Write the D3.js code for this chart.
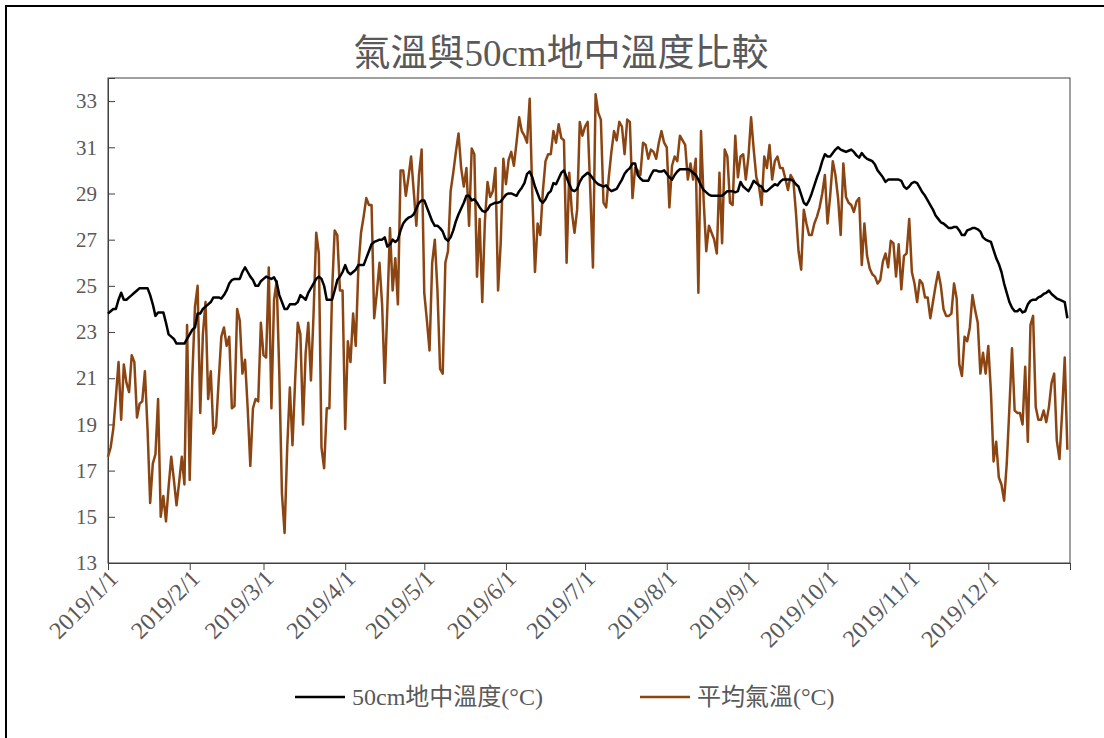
<!DOCTYPE html>
<html>
<head>
<meta charset="utf-8">
<script src="https://cdn.jsdelivr.net/npm/d3@7"></script>
<style>
  html, body { margin: 0; padding: 0; background: #fff; }
  svg { display: block; }
  text { font-family: "Liberation Serif", "Noto Sans CJK TC", serif; fill: #595959; }
</style>
</head>
<body>
<svg id="chart" width="1104" height="738"></svg>
<script>
// Daily series for 2019 (Jan 1 .. Dec 31)
const startDay = new Date(2019, 0, 1);
const endDay = new Date(2020, 0, 1);

// 50cm soil temperature (°C)
const soilTemp = [
  23.8, 23.9, 24.0, 24.0, 24.4, 24.7, 24.4, 24.4, 24.5, 24.6,
  24.7, 24.8, 24.9, 24.9, 24.9, 24.9, 24.6, 24.2, 23.7, 23.85,
  23.85, 23.85, 23.4, 22.9, 22.8, 22.7, 22.5, 22.5, 22.5, 22.5,
  22.7, 22.9, 23.1, 23.2, 23.8, 23.8, 24.0, 24.1, 24.2, 24.3,
  24.5, 24.5, 24.5, 24.45, 24.6, 24.8, 25.1, 25.25, 25.3, 25.3,
  25.3, 25.6, 25.8, 25.6, 25.4, 25.25, 25.0, 25.0, 25.2, 25.3,
  25.4, 25.35, 25.3, 25.37, 25.15, 24.6, 24.3, 24.0, 24.0, 24.2,
  24.2, 24.2, 24.3, 24.6, 24.5, 24.4, 24.7, 24.9, 25.1, 25.3,
  25.4, 25.3, 25.0, 24.4, 24.4, 24.4, 24.8, 25.25, 25.4, 25.6,
  25.9, 25.6, 25.5, 25.6, 25.7, 25.9, 25.9, 25.9, 26.2, 26.5,
  26.8, 26.9, 26.95, 27.0, 27.0, 27.1, 26.7, 26.8, 27.0, 26.9,
  27.0, 27.4, 27.7, 27.85, 27.95, 28.0, 28.1, 28.35, 28.6, 28.7,
  28.7, 28.4, 28.1, 27.8, 27.6, 27.6, 27.5, 27.35, 27.05, 26.95,
  27.1, 27.4, 27.8, 28.1, 28.35, 28.6, 28.9, 28.9, 28.7, 28.75,
  28.6, 28.4, 28.25, 28.2, 28.3, 28.5, 28.55, 28.6, 28.6, 28.65,
  28.8, 28.95, 29.0, 29.0, 28.95, 28.9, 29.1, 29.25, 29.45, 29.85,
  29.95, 29.7, 29.3, 29.0, 28.7, 28.6, 28.75, 29.0, 29.1, 29.45,
  29.4, 29.65, 29.9, 30.0, 29.7, 29.4, 29.15, 29.1, 29.2, 29.5,
  29.7, 29.8, 29.9, 29.8, 29.65, 29.5, 29.4, 29.35, 29.3, 29.35,
  29.2, 29.1, 29.15, 29.2, 29.4, 29.6, 29.85, 30.0, 30.1, 30.3,
  30.3, 29.8, 29.65, 29.55, 29.55, 29.55, 29.8, 30.0, 30.0, 29.95,
  29.95, 30.0, 29.85, 29.7, 29.6, 29.8, 29.95, 30.05, 30.05, 30.05,
  30.05, 30.0, 29.9, 29.8, 29.6, 29.35, 29.15, 29.05, 28.95, 28.9,
  28.9, 28.9, 28.9, 28.9, 29.0, 29.1, 29.1, 29.1, 29.05, 29.1,
  29.5, 29.3, 29.2, 29.1, 29.3, 29.55, 29.45, 29.35, 29.3, 29.1,
  29.1, 29.2, 29.3, 29.4, 29.35, 29.5, 29.6, 29.6, 29.6, 29.6,
  29.55, 29.4, 29.3, 28.95, 28.6, 28.5, 28.7, 29.0, 29.35, 29.7,
  30.0, 30.4, 30.7, 30.6, 30.6, 30.75, 30.9, 31.0, 30.9, 30.85,
  30.8, 30.85, 30.9, 30.8, 30.65, 30.55, 30.75, 30.6, 30.5, 30.45,
  30.4, 30.25, 30.0, 29.85, 29.7, 29.5, 29.6, 29.6, 29.6, 29.6,
  29.6, 29.55, 29.3, 29.2, 29.3, 29.45, 29.5, 29.45, 29.25, 29.05,
  28.9, 28.7, 28.5, 28.3, 28.05, 27.9, 27.75, 27.7, 27.6, 27.5,
  27.5, 27.55, 27.55, 27.4, 27.2, 27.2, 27.4, 27.45, 27.5, 27.5,
  27.45, 27.35, 27.1, 27.0, 26.95, 26.9, 26.55, 26.2, 25.95, 25.6,
  25.1, 24.7, 24.3, 24.05, 23.9, 23.9, 24.0, 23.85, 23.9, 24.2,
  24.35, 24.4, 24.4, 24.5, 24.55, 24.65, 24.7, 24.8, 24.65, 24.55,
  24.45, 24.4, 24.35, 24.3, 23.6
];

// Daily mean air temperature (°C)
const airTemp = [
  17.6, 18.0, 18.8, 20.2, 21.7, 19.2, 21.6, 20.8, 20.4, 22.0,
  21.7, 19.3, 19.9, 20.0, 21.3, 18.8, 15.6, 17.3, 17.7, 20.1,
  15.0, 15.9, 14.8, 16.3, 17.6, 16.6, 15.5, 16.5, 17.6, 16.4,
  23.3, 16.6, 21.1, 24.1, 25.0, 19.5, 22.9, 24.3, 20.1, 21.3,
  18.6, 18.9, 20.9, 22.8, 23.2, 22.4, 22.8, 19.7, 19.8, 24.0,
  23.5, 21.2, 21.8, 19.7, 17.2, 19.7, 20.1, 20.0, 23.4, 22.0,
  21.9, 25.8, 19.7, 24.4, 25.2, 21.2, 16.0, 14.3, 18.0, 20.6,
  18.1, 20.9, 23.4, 22.9, 19.0, 22.1, 23.4, 20.9, 23.8, 27.3,
  26.4, 18.0, 17.1, 19.7, 19.7, 24.7, 27.4, 27.2, 24.8, 24.8,
  18.8, 22.6, 21.7, 23.8, 22.4, 25.8, 27.3, 28.0, 28.8, 28.5,
  28.5, 23.6, 24.7, 26.0, 24.2, 20.8, 24.1, 27.5, 24.8, 26.2,
  24.2, 30.0, 30.0, 28.9, 29.7, 30.6, 29.1, 27.6, 29.8, 30.9,
  24.7, 23.5, 22.2, 26.0, 27.0, 24.8, 21.4, 21.2, 26.0, 26.5,
  29.1, 29.9, 30.8, 31.6, 30.1, 29.3, 30.1, 27.6, 30.95, 30.7,
  25.4, 27.9, 24.3, 27.8, 29.5, 28.85, 29.1, 30.1, 24.8, 26.85,
  30.5, 29.4, 30.45, 30.8, 30.2, 31.2, 32.3, 31.7, 31.5, 31.2,
  33.1, 28.9, 25.6, 27.7, 27.2, 29.1, 30.4, 30.7, 30.7, 31.7,
  31.2, 32.0, 31.4, 31.3, 26.0, 29.9, 28.2, 27.3, 28.3, 32.1,
  31.5, 31.9, 32.1, 29.1, 25.8, 33.3, 32.5, 32.2, 28.6, 28.4,
  29.7, 30.8, 31.7, 31.3, 32.1, 31.9, 30.7, 32.2, 32.1, 28.8,
  30.1, 30.0, 29.8, 31.2, 31.1, 30.5, 30.9, 30.8, 30.5, 31.2,
  31.7, 31.2, 31.0, 28.4, 30.2, 30.6, 30.4, 31.5, 31.3, 31.1,
  29.6, 30.3, 29.6, 30.5, 24.7, 31.7, 28.7, 26.5, 27.6, 27.3,
  27.0, 26.4, 29.9, 26.85, 30.9, 30.6, 28.6, 28.5, 31.5, 29.7,
  30.6, 30.7, 29.6, 30.6, 32.3, 30.9, 29.7, 29.3, 28.5, 30.6,
  30.1, 31.1, 29.6, 30.4, 30.6, 30.1, 30.1, 29.65, 29.15, 29.8,
  29.6, 28.2, 26.5, 25.7, 28.3, 27.7, 27.2, 27.2, 27.7, 28.0,
  28.4, 29.0, 29.8, 27.7, 28.9, 30.4, 29.8, 28.8, 27.2, 30.3,
  28.85, 28.6, 28.5, 28.2, 28.65, 28.8, 25.9, 27.7, 26.3, 25.75,
  25.5, 25.4, 25.1, 25.25, 26.05, 26.4, 25.8, 26.95, 26.85, 25.4,
  26.8, 24.85, 26.3, 26.4, 27.9, 25.6, 25.1, 24.3, 25.25, 25.1,
  24.5, 24.5, 23.6, 24.3, 25.0, 25.6, 25.0, 24.0, 23.7, 23.7,
  23.8, 25.1, 24.45, 21.6, 21.1, 22.8, 22.6, 23.2, 24.6, 23.95,
  23.4, 21.2, 22.1, 21.2, 22.4, 20.4, 17.4, 18.25, 16.7, 16.4,
  15.7, 17.3, 19.7, 22.3, 19.6, 19.5, 19.5, 19.0, 21.5, 18.25,
  23.3, 23.7, 19.75, 19.2, 19.2, 19.6, 19.1, 19.75, 20.8, 21.2,
  18.3, 17.5, 19.5, 21.9, 17.9
];

const yTicks = [13, 15, 17, 19, 21, 23, 25, 27, 29, 31, 33];
const titleText = "氣溫與50cm地中溫度比較";
const seriesNames = ["50cm地中溫度(°C)", "平均氣溫(°C)"];
const seriesColors = ["#000000", "#8B4513"];

const days = d3.timeDay.range(startDay, endDay);
const monthTicks = d3.timeMonth.range(startDay, d3.timeMonth.offset(endDay, 1));
const fmtDate = d3.timeFormat("%Y/%-m/%-d");

const svg = d3.select("#chart");
const W = 1104, H = 738;
const plot = { left: 108, right: 1070, top: 78, bottom: 563 };

// chart frame
svg.append("rect")
  .attr("x", 6).attr("y", 6)
  .attr("width", W + 40).attr("height", H + 40)
  .attr("fill", "#fff").attr("stroke", "#000").attr("stroke-width", 2);

const x = d3.scaleTime().domain([startDay, endDay]).range([plot.left, plot.right]);
const y = d3.scaleLinear().domain([13, 34]).range([plot.bottom, plot.top]);

// plot area box
svg.append("rect")
  .attr("x", plot.left).attr("y", plot.top)
  .attr("width", plot.right - plot.left).attr("height", plot.bottom - plot.top)
  .attr("fill", "none").attr("stroke", "#404040").attr("stroke-width", 1);

// y axis (ticks inside)
const yAxis = svg.append("g")
  .attr("transform", `translate(${plot.left},0)`)
  .call(d3.axisLeft(y).tickValues(yTicks).tickSize(-7).tickPadding(11).tickFormat(d3.format("d")));
yAxis.select(".domain").attr("stroke", "#404040");
yAxis.selectAll(".tick line").attr("stroke", "#404040");
yAxis.selectAll("text")
  .attr("font-size", 21)
  .attr("fill", "#595959")
  .attr("font-family", "Liberation Serif");

// x axis (month starts, labels rotated)
const xAxis = svg.append("g")
  .attr("transform", `translate(0,${plot.bottom})`)
  .call(d3.axisBottom(x).tickValues(monthTicks).tickSize(7).tickFormat(d => d < endDay ? fmtDate(d) : ""));
xAxis.select(".domain").attr("stroke", "#404040");
xAxis.selectAll(".tick line").attr("stroke", "#404040");
xAxis.selectAll("text")
  .attr("font-size", 24)
  .attr("fill", "#595959")
  .attr("font-family", "Liberation Serif")
  .attr("text-anchor", "end")
  .attr("dy", "0.35em")
  .attr("x", 0).attr("y", 0)
  .attr("transform", "translate(5,11) rotate(-45)");

// series lines
const line = d3.line()
  .x((d, i) => x(days[i]))
  .y(d => y(d));

svg.append("path")
  .datum(airTemp)
  .attr("fill", "none")
  .attr("stroke", seriesColors[1])
  .attr("stroke-width", 2.5)
  .attr("stroke-linejoin", "round")
  .attr("d", line);

svg.append("path")
  .datum(soilTemp)
  .attr("fill", "none")
  .attr("stroke", seriesColors[0])
  .attr("stroke-width", 2.5)
  .attr("stroke-linejoin", "round")
  .attr("d", line);

// title
svg.append("text")
  .attr("x", 561).attr("y", 66)
  .attr("text-anchor", "middle")
  .attr("font-size", 37)
  .attr("fill", "#595959")
  .text(titleText);

// legend
const legendItems = [
  { name: seriesNames[0], color: seriesColors[0], x: 295 },
  { name: seriesNames[1], color: seriesColors[1], x: 640 }
];
const lg = svg.append("g").attr("class", "legend");
legendItems.forEach(item => {
  lg.append("line")
    .attr("x1", item.x).attr("x2", item.x + 50)
    .attr("y1", 697).attr("y2", 697)
    .attr("stroke", item.color).attr("stroke-width", 2.5);
  lg.append("text")
    .attr("x", item.x + 57).attr("y", 697)
    .attr("dy", "0.35em")
    .attr("font-size", 24)
    .attr("fill", "#595959")
    .text(item.name);
});
</script>
</body>
</html>
